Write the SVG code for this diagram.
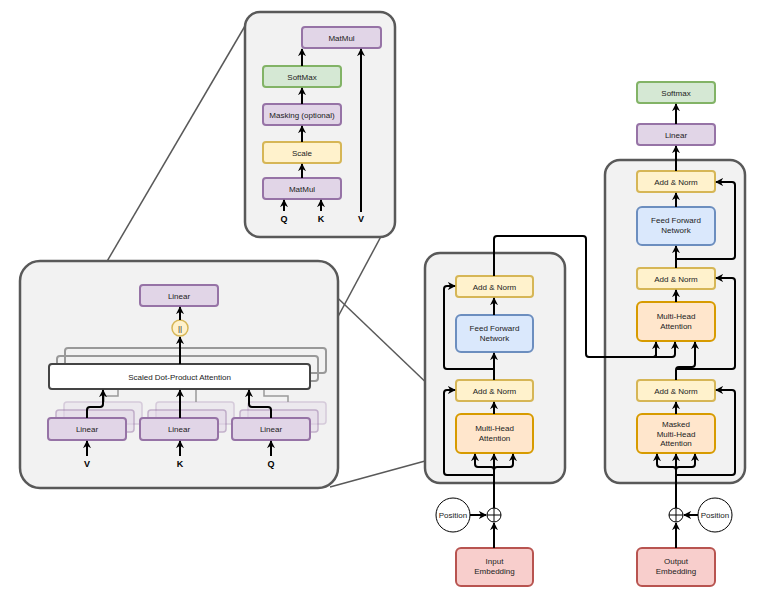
<svg xmlns="http://www.w3.org/2000/svg" width="758" height="603" viewBox="0 0 758 603">
<defs>
<marker id="a" viewBox="0 0 10 10" refX="9" refY="5" markerWidth="4" markerHeight="4" orient="auto"><path d="M0,0 L10,5 L0,10 L3,5 z" fill="#000"/></marker>
<style>
.bg{fill:#f2f2f2;stroke:#595959;stroke-width:2.5}
.y{fill:#fff2cc;stroke:#d6b656;stroke-width:2}
.o{fill:#ffe6cc;stroke:#d79b00;stroke-width:2}
.b{fill:#dae8fc;stroke:#6c8ebf;stroke-width:2}
.g{fill:#d5e8d4;stroke:#82b366;stroke-width:2}
.p{fill:#e1d5e7;stroke:#9673a6;stroke-width:2}
.r{fill:#f8cecc;stroke:#b85450;stroke-width:2}
.sh1{fill:#e1d5e7;stroke:#9673a6;stroke-width:1.5;opacity:.5}
.sh2{fill:#e1d5e7;stroke:#9673a6;stroke-width:1.5;opacity:.3}
.gs{fill:none;stroke:#999;stroke-width:2}
text{font-family:"Liberation Sans",Arial,sans-serif;font-size:8px;fill:#222;text-anchor:middle}
.l{font-weight:bold;font-size:9px;fill:#000}
.c{fill:none;stroke:#000;stroke-width:2}
.ca{fill:none;stroke:#000;stroke-width:2;marker-end:url(#a)}
.z{fill:none;stroke:#595959;stroke-width:1.5}
</style>
</defs>
<g id="zoomlines">
<line class="z" x1="252" y1="14" x2="48" y2="362"/>
<line class="z" x1="393" y1="214" x2="318" y2="354"/>
<line class="z" x1="322" y1="283" x2="458" y2="413"/>
<line class="z" x1="330" y1="487" x2="458" y2="452"/>
</g>
<g id="sdpa-box">
<rect class="bg" x="245" y="12" width="150" height="225" rx="15"/>
<g id="sd-matmul2"><rect class="p" x="302" y="27" width="79" height="21" rx="3"/><text x="341.5" y="40.5">MatMul</text></g>
<g id="sd-softmax"><rect class="g" x="263" y="66" width="78" height="21" rx="3"/><text x="302" y="79.5">SoftMax</text></g>
<g id="sd-mask"><rect class="p" x="263" y="104" width="78" height="21" rx="3"/><text x="302" y="117.5">Masking (optional)</text></g>
<g id="sd-scale"><rect class="y" x="263" y="142" width="78" height="21" rx="3"/><text x="302" y="155.5">Scale</text></g>
<g id="sd-matmul1"><rect class="p" x="263" y="178" width="78" height="21" rx="3"/><text x="302" y="191.5">MatMul</text></g>
<text class="l" x="284" y="222">Q</text><text class="l" x="321" y="222">K</text><text class="l" x="361" y="222">V</text>
</g>
<g id="mha-box">
<rect class="bg" x="20" y="261" width="318" height="227" rx="20"/>
<rect class="gs" x="65" y="348" width="261" height="25" rx="3"/>
<rect class="gs" x="57" y="356" width="261" height="25" rx="3"/>
<g id="sdpa"><rect x="49" y="364" width="261" height="25" rx="3" fill="#fff" stroke="#444" stroke-width="2"/><text x="179.5" y="380" font-size="9">Scaled Dot-Product Attention</text></g>
<rect class="sh2" x="64" y="402" width="78" height="22" rx="3"/><rect class="sh2" x="156" y="402" width="78" height="22" rx="3"/><rect class="sh2" x="248" y="402" width="78" height="22" rx="3"/>
<rect class="sh1" x="56" y="410" width="78" height="22" rx="3"/><rect class="sh1" x="148" y="410" width="78" height="22" rx="3"/><rect class="sh1" x="240" y="410" width="78" height="22" rx="3"/>
<g fill="none" stroke="#999" stroke-width="1.5"><path d="M104,402 V396 H118 V390"/><path d="M196,402 V390"/><path d="M288,402 V396 H264 V390"/></g>
<g id="lin-v"><rect class="p" x="48" y="418" width="78" height="22" rx="3"/><text x="87" y="432">Linear</text></g>
<g id="lin-k"><rect class="p" x="140" y="418" width="78" height="22" rx="3"/><text x="179" y="432">Linear</text></g>
<g id="lin-q"><rect class="p" x="232" y="418" width="78" height="22" rx="3"/><text x="271" y="432">Linear</text></g>
<g id="lin-out"><rect class="p" x="140" y="285" width="78" height="21" rx="3"/><text x="179" y="298.5">Linear</text></g>
<g id="concat"><circle cx="180" cy="328" r="8" fill="#fff2cc" stroke="#d6b656" stroke-width="1.5"/><text x="180" y="331">||</text></g>
<text class="l" x="87" y="467">V</text><text class="l" x="180" y="467">K</text><text class="l" x="271" y="467">Q</text>
</g>
<g id="encoder">
<rect class="bg" x="425" y="253" width="140" height="230" rx="15"/>
<g id="e-an2"><rect class="y" x="456" y="276" width="77" height="21" rx="3"/><text x="494.5" y="289.5">Add &amp; Norm</text></g>
<g id="e-ffn"><rect class="b" x="456" y="315" width="77" height="37" rx="5"/><text x="494.5" y="331">Feed Forward</text><text x="494.5" y="341">Network</text></g>
<g id="e-an1"><rect class="y" x="456" y="380" width="77" height="21" rx="3"/><text x="494.5" y="393.5">Add &amp; Norm</text></g>
<g id="e-mha"><rect class="o" x="456" y="414" width="77" height="39" rx="5"/><text x="494.5" y="431">Multi-Head</text><text x="494.5" y="441">Attention</text></g>
</g>
<g id="in-emb"><rect class="r" x="456" y="548" width="77" height="38" rx="5"/><text x="494.5" y="564">Input</text><text x="494.5" y="574">Embedding</text></g>
<g id="in-pos"><circle cx="453" cy="515" r="17" fill="#fff" stroke="#000"/><text x="453" y="518">Position</text></g>
<g id="in-plus"><circle cx="494" cy="515" r="7" fill="#fff" stroke="#000"/><path d="M487,515 H501 M494,508 V522" stroke="#000"/></g>
<g id="decoder">
<rect class="bg" x="605" y="160" width="140" height="323" rx="15"/>
<g id="d-an3"><rect class="y" x="637" y="171" width="78" height="21" rx="3"/><text x="676" y="184.5">Add &amp; Norm</text></g>
<g id="d-ffn"><rect class="b" x="637" y="207" width="78" height="38" rx="5"/><text x="676" y="223">Feed Forward</text><text x="676" y="233">Network</text></g>
<g id="d-an2"><rect class="y" x="637" y="268" width="78" height="21" rx="3"/><text x="676" y="281.5">Add &amp; Norm</text></g>
<g id="d-mha"><rect class="o" x="637" y="302" width="78" height="39" rx="5"/><text x="676" y="319">Multi-Head</text><text x="676" y="329">Attention</text></g>
<g id="d-an1"><rect class="y" x="637" y="380" width="78" height="21" rx="3"/><text x="676" y="393.5">Add &amp; Norm</text></g>
<g id="d-mmha"><rect class="o" x="637" y="414" width="78" height="39" rx="5"/><text x="676" y="427">Masked</text><text x="676" y="436.5">Multi-Head</text><text x="676" y="446">Attention</text></g>
</g>
<g id="d-linear"><rect class="p" x="637" y="124" width="78" height="21" rx="3"/><text x="676" y="137.5">Linear</text></g>
<g id="d-softmax"><rect class="g" x="637" y="82" width="78" height="21" rx="3"/><text x="676" y="95.5">Softmax</text></g>
<g id="out-emb"><rect class="r" x="637" y="548" width="78" height="38" rx="5"/><text x="676" y="564">Output</text><text x="676" y="574">Embedding</text></g>
<g id="out-plus"><circle cx="676" cy="515" r="7" fill="#fff" stroke="#000"/><path d="M669,515 H683 M676,508 V522" stroke="#000"/></g>
<g id="out-pos"><circle cx="715" cy="515" r="17" fill="#fff" stroke="#000"/><text x="715" y="518">Position</text></g>
<g id="connectors">
<!-- sdpa detail -->
<line class="ca" x1="302" y1="66" x2="302" y2="49"/>
<line class="ca" x1="302" y1="104" x2="302" y2="88"/>
<line class="ca" x1="302" y1="142" x2="302" y2="126"/>
<line class="ca" x1="302" y1="178" x2="302" y2="164"/>
<line class="ca" x1="284" y1="211" x2="284" y2="200"/>
<line class="ca" x1="321" y1="211" x2="321" y2="200"/>
<line class="ca" x1="361" y1="212" x2="361" y2="49"/>
<!-- mha detail -->
<line class="ca" x1="180" y1="320" x2="180" y2="307"/>
<line class="ca" x1="180" y1="364" x2="180" y2="337"/>
<path class="ca" d="M87,418 V410 Q87,407 90,407 H100 Q103,407 103,404 V390"/>
<line class="ca" x1="180" y1="418" x2="180" y2="390"/>
<path class="ca" d="M271,418 V410 Q271,407 268,407 H252 Q249,407 249,404 V390"/>
<line class="ca" x1="87" y1="456" x2="87" y2="441"/>
<line class="ca" x1="180" y1="456" x2="180" y2="441"/>
<line class="ca" x1="271" y1="456" x2="271" y2="441"/>
<!-- encoder -->
<line class="ca" x1="494" y1="548" x2="494" y2="523"/>
<line class="ca" x1="470" y1="515" x2="486" y2="515"/>
<line class="c" x1="494" y1="508" x2="494" y2="475"/>
<path class="ca" d="M494,478 V470 Q494,467 491,467 H478 Q475,467 475,464 V454"/>
<line class="ca" x1="494" y1="478" x2="494" y2="454"/>
<path class="ca" d="M494,478 V470 Q494,467 497,467 H510 Q513,467 513,464 V454"/>
<path class="ca" d="M494,475 H447 Q444,475 444,472 V393 Q444,390 447,390 H455"/>
<line class="ca" x1="494" y1="414" x2="494" y2="402"/>
<line class="ca" x1="494" y1="380" x2="494" y2="353"/>
<path class="ca" d="M494,369 H447 Q444,369 444,366 V289 Q444,286 447,286 H455"/>
<line class="ca" x1="494" y1="315" x2="494" y2="298"/>
<!-- encoder to decoder -->
<path class="c" d="M494,276 V239 Q494,236 497,236 H583 Q586,236 586,239 V354 Q586,357 589,357 H652 Q656,357 656,354"/>
<path class="ca" d="M656,357 V342"/>
<path class="ca" d="M640,357 H672 Q675,357 675,354 V342"/>
<!-- decoder -->
<line class="ca" x1="676" y1="548" x2="676" y2="523"/>
<line class="ca" x1="698" y1="515" x2="684" y2="515"/>
<line class="c" x1="676" y1="508" x2="676" y2="475"/>
<path class="ca" d="M676,478 V470 Q676,467 673,467 H660 Q657,467 657,464 V454"/>
<line class="ca" x1="676" y1="478" x2="676" y2="454"/>
<path class="ca" d="M676,478 V470 Q676,467 679,467 H692 Q695,467 695,464 V454"/>
<path class="ca" d="M676,475 H732 Q735,475 735,472 V393 Q735,390 732,390 H716"/>
<line class="ca" x1="676" y1="414" x2="676" y2="402"/>
<path class="ca" d="M676,380 V370 Q676,367 679,367 H692 Q695,367 695,364 V342"/>
<path class="ca" d="M676,369 H732 Q735,369 735,366 V281 Q735,278 732,278 H716"/>
<line class="ca" x1="676" y1="302" x2="676" y2="290"/>
<line class="ca" x1="676" y1="268" x2="676" y2="246"/>
<path class="ca" d="M676,259 H732 Q735,259 735,256 V185 Q735,182 732,182 H716"/>
<line class="ca" x1="676" y1="207" x2="676" y2="193"/>
<line class="ca" x1="676" y1="171" x2="676" y2="146"/>
<line class="ca" x1="676" y1="124" x2="676" y2="104"/>
</g>
</svg>
